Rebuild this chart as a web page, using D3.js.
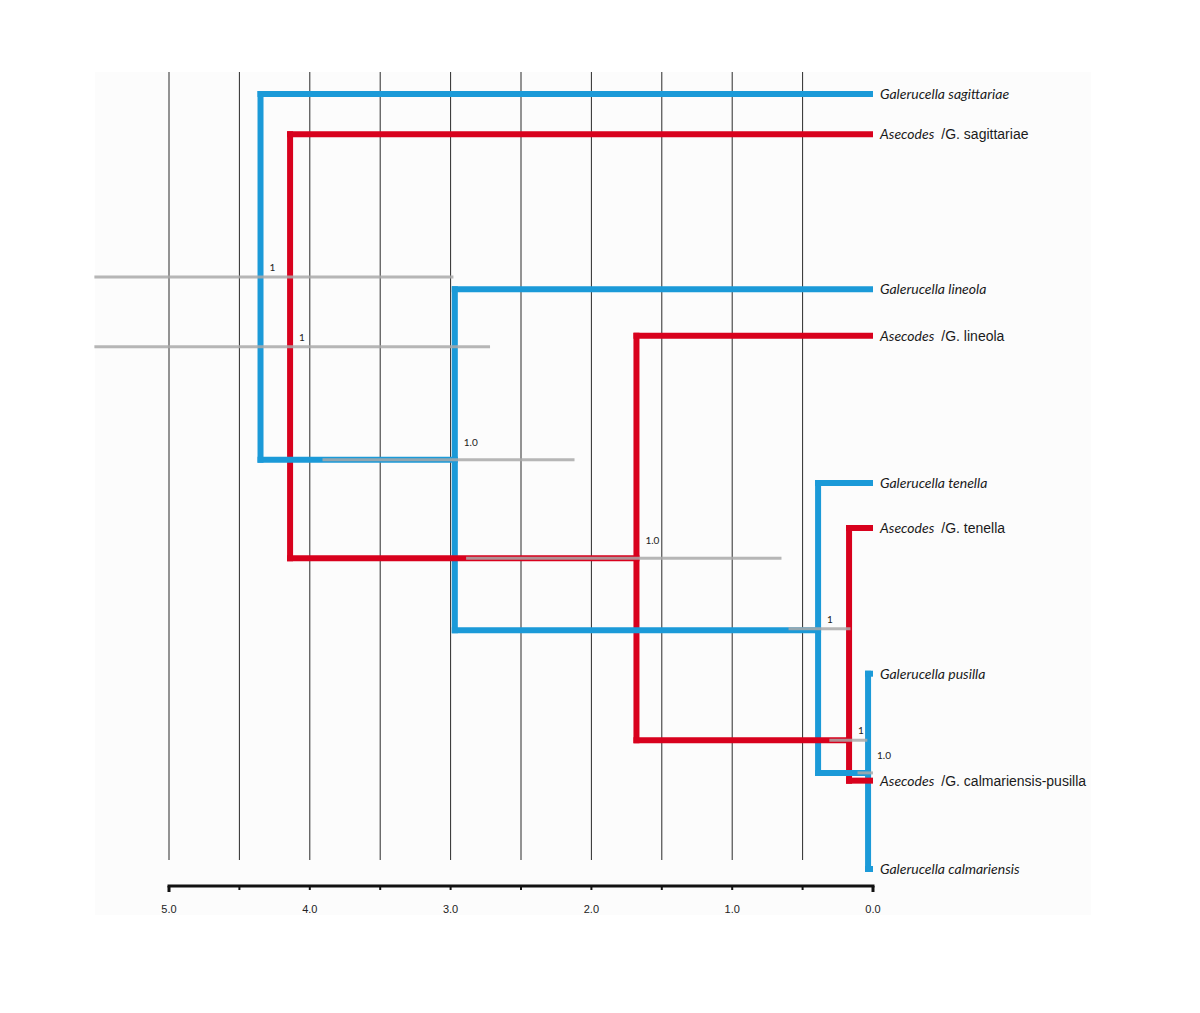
<!DOCTYPE html>
<meta charset="utf-8">
<head>
<style>
body { margin: 0; background: #fff; }
svg text { font-family: Lato, "Open Sans", sans-serif; }
</style>
</head>
<script src="https://d3js.org/d3.v7.min.js"></script>
<div id="chart"></div>
<script>

// tips: name parts, tree, vertical row position (0 = top tip, 10 = bottom tip)
var tipGenus = ["Galerucella", "Asecodes", "Galerucella", "Asecodes", "Galerucella",
                "Asecodes", "Galerucella", "Asecodes", "Galerucella"];
var tipRest  = [" sagittariae", "/G. sagittariae", " lineola", "/G. lineola", " tenella",
                "/G. tenella", " pusilla", "/G. calmariensis-pusilla", " calmariensis"];
var tipItalicRest = [true, false, true, false, true, false, true, false, true];
var tipTree  = ["host", "para", "host", "para", "host", "para", "host", "para", "host"];
var tipRow   = [0, 0.52, 2.52, 3.12, 5.02, 5.6, 7.48, 8.86, 10];

// internal nodes (age in Ma), parent node id, row where the incoming branch joins
var nodeId     = ["h1", "h2", "h3", "h4", "p1", "p2", "p3"];
var nodeTree   = ["host", "host", "host", "host", "para", "para", "para"];
var nodeAge    = [4.35, 2.97, 0.39, 0.035, 4.14, 1.68, 0.17];
var nodeParent = [null, "h1", "h2", "h3", null, "p1", "p2"];
var nodeRow    = [null, 4.72, 6.92, 8.76, null, 5.99, 8.34];
// support values and 95% HPD intervals
var nodeSupport = ["1", "1.0", "1", "1.0", "1", "1.0", "1"];
var hpdRow   = [2.36, 4.72, 6.9, 8.76, 3.26, 5.99, 8.34];
var hpdOld   = [5.53, 3.91, 0.6, 0.11, 5.53, 2.89, 0.31];
var hpdYoung = [2.98, 2.12, 0.16, 0.0, 2.72, 0.65, 0.04];

// parent of each tip
var tipParent = ["h1", "p1", "h2", "p2", "h3", "p3", "h4", "p3", "h4"];

var axisTicks = [5, 4, 3, 2, 1, 0];
var gridLines = [5, 4.5, 4, 3.5, 3, 2.5, 2, 1.5, 1, 0.5];

var colors = {host: "#1b9ad8", para: "#d8011d"};

var W = 1200, H = 1013;
var svg = d3.select("#chart").append("svg").attr("width", W).attr("height", H);

var x = d3.scaleLinear().domain([5, 0]).range([169, 873]);
var y = d3.scaleLinear().domain([0, 10]).range([94, 869]);

// faint panel background
svg.append("rect")
  .attr("x", 95).attr("y", 72).attr("width", 996).attr("height", 843)
  .attr("fill", "#fcfcfc");

// vertical grid
svg.selectAll(".grid").data(gridLines).enter().append("line")
  .attr("class", "grid")
  .attr("x1", function(d) { return x(d); }).attr("x2", function(d) { return x(d); })
  .attr("y1", 72).attr("y2", 860)
  .attr("stroke", "#2a2a2a").attr("stroke-width", 1);

// bottom axis
var axisG = svg.append("g").attr("transform", "translate(0,886)");
axisG.append("line").attr("x1", x(5) - 1.5).attr("x2", x(0) + 1.5)
  .attr("stroke", "#111").attr("stroke-width", 3);
axisG.selectAll(".tk").data(gridLines.concat([0])).enter().append("line")
  .attr("x1", function(d) { return x(d); }).attr("x2", function(d) { return x(d); })
  .attr("y1", 0).attr("y2", function(d) { return (d === 5 || d === 0) ? 6 : 4; })
  .attr("stroke", "#111").attr("stroke-width", function(d) { return (d === 5 || d === 0) ? 3 : 2; });
axisG.selectAll(".lbl").data(axisTicks).enter().append("text")
  .attr("x", function(d) { return x(d); }).attr("y", 27)
  .attr("text-anchor", "middle")
  .style("font-family", "'Liberation Sans Narrow', sans-serif")
  .style("font-size", "11px").attr("fill", "#222")
  .text(function(d) { return d3.format(".1f")(d); });

// node lookup
var nodes = {};
nodeId.forEach(function(id, i) {
  nodes[id] = {id: id, tree: nodeTree[i], age: nodeAge[i], parent: nodeParent[i], row: nodeRow[i], kids: []};
});
var tips = tipGenus.map(function(g, i) {
  return {tree: tipTree[i], age: 0, parent: tipParent[i], row: tipRow[i]};
});
tips.forEach(function(t) { nodes[t.parent].kids.push(t); });
nodeId.forEach(function(id) { var n = nodes[id]; if (n.parent) nodes[n.parent].kids.push(n); });

var branches = svg.append("g");
// verticals of internal nodes
nodeId.forEach(function(id) {
  var n = nodes[id];
  var rows = n.kids.map(function(k) { return k.row; });
  branches.append("line")
    .attr("x1", x(n.age)).attr("x2", x(n.age))
    .attr("y1", y(d3.min(rows)) - 3).attr("y2", y(d3.max(rows)) + 3)
    .attr("stroke", colors[n.tree]).attr("stroke-width", 6);
});
// horizontals (incoming branches)
tips.concat(nodeId.map(function(id) { return nodes[id]; }).filter(function(n) { return n.parent; }))
  .forEach(function(c) {
    var p = nodes[c.parent];
    branches.append("line")
      .attr("x1", x(p.age) - 3).attr("x2", x(c.age) + (c.age === 0 ? 0 : 3))
      .attr("y1", y(c.row)).attr("y2", y(c.row))
      .attr("stroke", colors[c.tree]).attr("stroke-width", 6);
  });

// HPD bars
svg.selectAll(".hpd").data(nodeId).enter().append("line")
  .attr("x1", function(d, i) { return x(hpdOld[i]); })
  .attr("x2", function(d, i) { return x(hpdYoung[i]); })
  .attr("y1", function(d, i) { return y(hpdRow[i]); })
  .attr("y2", function(d, i) { return y(hpdRow[i]); })
  .attr("stroke", "#a9a9a9").attr("stroke-opacity", 0.85).attr("stroke-width", 3);

// support labels
svg.selectAll(".sup").data(nodeId).enter().append("text")
  .attr("x", function(d, i) { return x(nodeAge[i]) + 9; })
  .attr("y", function(d, i) { return y(hpdRow[i]) - (nodeSupport[i] === "1.0" ? 14 : 6); })
  .style("font-size", "10px").attr("fill", "#222")
  .text(function(d, i) { return nodeSupport[i]; });

// tip labels
var tl = svg.selectAll(".tip").data(tipGenus).enter().append("text")
  .attr("x", 880)
  .attr("y", function(d, i) { return y(tipRow[i]) + 5; })
  .style("font-size", "14px").attr("fill", "#1a1a1a");
tl.append("tspan").style("font-style", "italic").text(function(d) { return d; });
tl.append("tspan")
  .attr("dx", function(d, i) { return tipItalicRest[i] ? 0 : 7; })
  .style("font-style", function(d, i) { return tipItalicRest[i] ? "italic" : "normal"; })
  .style("font-family", function(d, i) { return tipItalicRest[i] ? null : "'Liberation Sans', Arial, sans-serif"; })
  .attr("xml:space", "preserve")
  .text(function(d, i) { return tipRest[i]; });

</script>
